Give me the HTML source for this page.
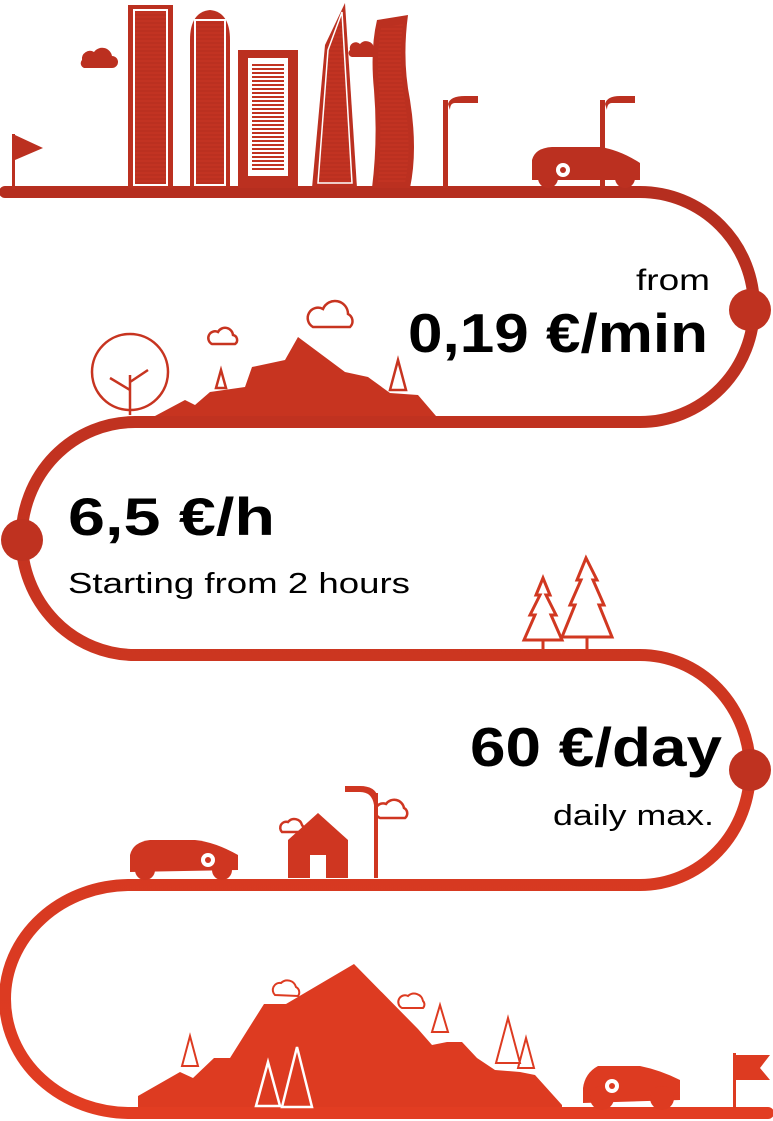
<!DOCTYPE html>
<html><head><meta charset="utf-8"><style>
html,body{margin:0;padding:0;background:#fff}
svg{display:block}
text{font-family:"Liberation Sans",sans-serif;fill:#000}
</style></head><body>
<svg width="773" height="1121" viewBox="0 0 773 1121" xmlns="http://www.w3.org/2000/svg">
<defs>
<linearGradient id="g" x1="0" y1="0" x2="0" y2="1">
<stop offset="0" stop-color="#b52e1f"/><stop offset="1" stop-color="#e23d22"/>
</linearGradient>
<pattern id="st" width="4" height="4" patternUnits="userSpaceOnUse"><rect width="4" height="2" fill="#c23322"/></pattern>
</defs>
<g fill="none" stroke="url(#g)" stroke-width="12" stroke-linecap="round">
<path d="M5 192 H640 A114 115 0 0 1 640 422 H135 A113 116 0 0 0 135 655 H640 A110 115 0 0 1 640 885 H130 A125 114 0 0 0 130 1113 H768"/>
</g>
<g fill="#bf3220">
<circle cx="750" cy="310" r="21"/>
<circle cx="22" cy="540" r="21"/>
<circle cx="750" cy="770" r="21"/>
</g>
<!-- skyline -->
<g fill="#bb3020">
<rect x="12" y="134" width="3" height="55"/>
<polygon points="15,135 43,148 15,160"/>
<path d="M82 60 a8 8 0 0 1 12-8 a10 10 0 0 1 18 4 a6 6 0 0 1 0 12 h-28 a5 5 0 0 1 -2-8z"/>
<path d="M350 50 a6 6 0 0 1 10-6 a8 8 0 0 1 14 4 a5 5 0 0 1 0 9 h-22 a4 4 0 0 1 -2-7z"/>
<rect x="128" y="5" width="45" height="183" />
<rect x="134" y="10" width="33" height="175" fill="url(#st)" stroke="#fff" stroke-width="2"/>
<path d="M190 40 Q190 12 210 10 Q230 12 230 40 V188 H190Z"/>
<rect x="195" y="20" width="30" height="165" fill="url(#st)" stroke="#fff" stroke-width="2"/>
<rect x="238" y="50" width="60" height="138"/>
<rect x="248" y="58" width="40" height="118" fill="#fff"/>
<rect x="252" y="64" width="32" height="106" fill="url(#st)"/>
<polygon points="312,188 325,45 345,3 357,188"/>
<polygon points="318,183 328,50 342,12 352,183" fill="url(#st)" stroke="#fff" stroke-width="1.5"/>
<path d="M377 20 L408 15 Q402 60 410 100 Q418 150 410 188 H372 Q378 140 374 90 Q370 50 377 20Z"/>
<path d="M381 28 L403 24 Q398 62 405 102 Q412 150 405 183 H378 Q382 140 379 90 Q376 55 381 28Z" fill="url(#st)"/>
<rect x="443" y="100" width="5" height="88"/>
<path d="M448 104 Q450 96 465 96 H478 V103 H455 Q450 103 450 110 Z"/>
<rect x="600" y="100" width="5" height="88"/>
<path d="M605 104 Q607 96 620 96 H635 V103 H612 Q607 103 607 110 Z"/>
<path d="M532 180 V160 Q535 148 552 147 H600 Q620 150 640 163 V180 Z"/>
<circle cx="548" cy="178" r="10"/><circle cx="625" cy="178" r="10"/>
<circle cx="563" cy="170" r="7" fill="#fff"/><circle cx="563" cy="170" r="3"/>
</g>
<!-- hills 1 -->
<g fill="#c73420">
<polygon points="155,416 185,400 195,405 210,392 245,387 252,367 285,360 298,337 345,372 368,377 390,393 418,395 436,416"/>
</g>
<g fill="none" stroke="#c73420" stroke-width="2.5">
<circle cx="130" cy="372" r="38"/>
<path d="M130 375 V415 M130 390 L110 378 M130 382 L148 370"/>
<path d="M313 327 a10 10 0 0 1 10-18 a13 13 0 0 1 25 5 a8 8 0 0 1 2 13 z"/>
<path d="M212 344 a6 6 0 0 1 6-12 a8 8 0 0 1 15 3 a5 5 0 0 1 2 9 z"/>
<path d="M221 370 l-5 18 h10 z M398 360 l-8 30 h16 z"/>
</g>
<!-- trees 2 -->
<g fill="none" stroke="#d13821" stroke-width="3">
<path d="M543 578 L536 595 H540 L530 615 H535 L524 640 H562 L551 615 H556 L546 595 H550 Z M543 640 V650"/>
<path d="M586 558 L577 580 H581 L570 605 H575 L562 637 H612 L599 605 H604 L593 580 H597 Z M587 637 V650"/>
</g>
<!-- house/car row -->
<g fill="#cf3621">
<path d="M130 872 V855 Q133 842 150 840 H195 Q215 842 238 855 V870 Z"/>
<circle cx="145" cy="870" r="10"/><circle cx="222" cy="870" r="10"/>
<circle cx="208" cy="860" r="7" fill="#fff"/><circle cx="208" cy="860" r="3"/>
<path d="M288 878 V840 L318 813 L348 840 V878 H326 V855 H310 V878Z"/>
<rect x="374" y="793" width="4" height="85"/>
<path d="M378 797 Q375 786 360 786 H345 V792 H360 Q372 792 374 805Z"/>
</g>
<g fill="none" stroke="#cf3621" stroke-width="2.5">
<path d="M282 832 a6 6 0 0 1 6-10 a8 8 0 0 1 14 3 a5 5 0 0 1 0 7 z"/>
<path d="M380 818 a7 7 0 0 1 6-14 a10 10 0 0 1 18 4 a6 6 0 0 1 1 10 z"/>
</g>
<!-- bottom mountain -->
<g fill="#dd3b21">
<polygon points="138,1107 138,1096 180,1072 193,1078 214,1058 230,1058 264,1004 286,1004 354,964 418,1029 432,1045 447,1042 462,1042 477,1058 495,1070 520,1072 535,1075 562,1105 562,1107"/>
<path d="M583 1103 V1088 Q585 1073 598 1066 H640 Q660 1070 680 1080 V1100 Z"/>
<circle cx="602" cy="1098" r="12"/><circle cx="662" cy="1098" r="12"/>
<circle cx="612" cy="1086" r="7" fill="#fff"/><circle cx="612" cy="1086" r="3"/>
<rect x="733" y="1053" width="3" height="55"/>
<polygon points="736,1055 770,1055 760,1068 770,1080 736,1080"/>
</g>
<g fill="none" stroke="#dd3b21" stroke-width="2">
<path d="M275 995 a7 7 0 0 1 6-12 a9 9 0 0 1 15 4 a6 6 0 0 1 2 9 z"/>
<path d="M402 1008 a6 6 0 0 1 6-12 a9 9 0 0 1 15 5 a5 5 0 0 1 0 7 z"/>
<path d="M440 1005 l-8 27 h16 z M190 1036 l-8 30 h16 z M508 1018 l-12 45 h24 z M526 1038 l-8 30 h16 z"/>
</g>
<g fill="none" stroke="#fff" stroke-width="2.5">
<path d="M268 1062 l-12 44 h24 z M297 1047 l-15 60 h30 z"/>
</g>
<!-- text -->
<text x="636" y="290" font-size="30" textLength="74" lengthAdjust="spacingAndGlyphs">from</text>
<text x="408" y="352" font-size="55" font-weight="bold" textLength="300" lengthAdjust="spacingAndGlyphs">0,19 €/min</text>
<text x="68" y="535" font-size="53" font-weight="bold" textLength="207" lengthAdjust="spacingAndGlyphs">6,5 €/h</text>
<text x="68" y="593" font-size="29" textLength="342" lengthAdjust="spacingAndGlyphs">Starting from 2 hours</text>
<text x="470" y="766" font-size="55" font-weight="bold" textLength="252" lengthAdjust="spacingAndGlyphs">60 €/day</text>
<text x="553" y="825" font-size="29" textLength="161" lengthAdjust="spacingAndGlyphs">daily max.</text>
</svg>
</body></html>
